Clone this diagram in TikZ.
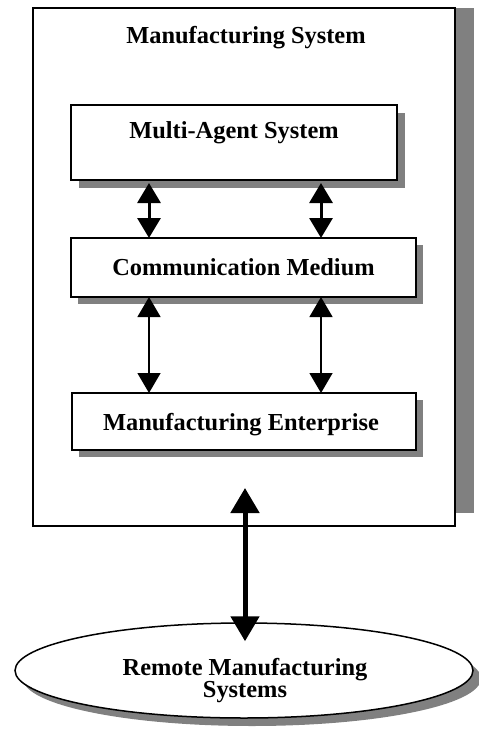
\documentclass[tikz,border=0pt]{standalone}
\usepackage{fontspec}
\setmainfont{Liberation Serif}
\usetikzlibrary{arrows.meta,shapes.geometric,shadows,calc}
\begin{document}
\begin{tikzpicture}[x=1pt,y=-1pt,
  lbl/.style={font=\fontsize{24.4}{24.4}\selectfont\bfseries, inner sep=0pt, anchor=base},
  panel/.style={draw, line width=2pt, fill=white, inner sep=0pt, outer sep=0pt, anchor=north west},
  shade/.style={drop shadow={shadow xshift=#1, shadow yshift=-#1, fill=black!50, opacity=1}},
  link/.style={{Triangle[length=20pt,width=23pt]}-{Triangle[length=20pt,width=23pt]}, line width=3pt},
  thinlink/.style={{Triangle[length=20pt,width=23pt]}-{Triangle[length=20pt,width=23pt]}, line width=1.5pt},
  biglink/.style={{Triangle[length=25pt,width=28pt]}-{Triangle[length=25pt,width=28pt]}, line width=5pt}
]
\useasboundingbox (0,0) rectangle (479,731);

% outer frame of the manufacturing system with its grey side strip
\node[panel, minimum width=422pt, minimum height=518pt] (sys) at (33,8) {};
\fill[black!50] ($(sys.north east)+(1,0)$) rectangle ($(sys.south east)+(19,-13)$);
\draw[line width=2pt] (sys.north east) -- (sys.south east);
\node[lbl] (systitle) at ($(sys.north)+(2,35)$) {Manufacturing System};

% inner layers
\node[panel, shade=8pt, minimum width=326pt, minimum height=75pt] (mas) at (71,105) {};
\node[lbl] (mastitle) at ($(mas.north)+(0,33)$) {Multi-Agent System};

\node[panel, shade=7pt, minimum width=345pt, minimum height=59pt] (cm) at (71,238) {};
\node[lbl] (cmtitle) at ($(cm.center)+(0,8)$) {Communication Medium};

\node[panel, shade=7pt, minimum width=344pt, minimum height=57pt] (me) at (72,393) {};
\node[lbl] (metitle) at ($(me.center)+(-3,9)$) {Manufacturing Enterprise};

% remote systems
\node[ellipse, draw, line width=1.5pt, fill=white, inner sep=0pt,
      minimum width=458pt, minimum height=95pt, shade=8pt] (rms) at (244,670.5) {};
\node[lbl] (rmstitle1) at ($(rms.center)+(1,4.5)$) {Remote Manufacturing};
\node[lbl] (rmstitle2) at ($(rms.center)+(1,27)$) {Systems};

% connectors
\coordinate (xl) at (149,0);
\coordinate (xr) at (321,0);
\draw[link] ($(mas.south -| xl)+(0,3)$) -- (cm.north -| xl);
\draw[link] ($(mas.south -| xr)+(0,3)$) -- (cm.north -| xr);
\draw[thinlink] (cm.south -| xl) -- (me.north -| xl);
\draw[thinlink] (cm.south -| xr) -- (me.north -| xr);
\draw[biglink] ($(sys.south)+(1,-38)$) -- ($(rms.north)+(1,19)$);
\end{tikzpicture}
\end{document}
